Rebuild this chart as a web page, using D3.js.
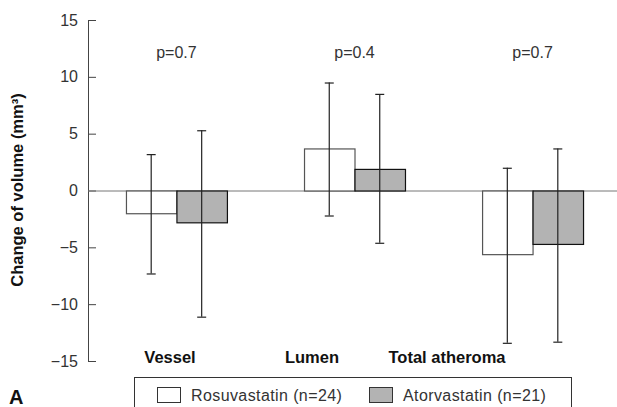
<!DOCTYPE html>
<html>
<head>
<meta charset="utf-8">
<script src="https://cdn.jsdelivr.net/npm/d3@7"></script>
<style>
  body { margin: 0; background: #fff; }
  svg { display: block; }
</style>
</head>
<body>
<div id="chart"></div>
<script>
// data
var categories = ["Vessel", "Lumen", "Total atheroma"];
var series = ["Rosuvastatin (n=24)", "Atorvastatin (n=21)"];
var means = {
    "Rosuvastatin (n=24)": [-2.0, 3.7, -5.6],
    "Atorvastatin (n=21)": [-2.8, 1.9, -4.7]
};
var errLow = {
    "Rosuvastatin (n=24)": [-7.3, -2.2, -13.4],
    "Atorvastatin (n=21)": [-11.1, -4.6, -13.3]
};
var errHigh = {
    "Rosuvastatin (n=24)": [3.2, 9.5, 2.0],
    "Atorvastatin (n=21)": [5.3, 8.5, 3.7]
};
var pValues = ["p=0.7", "p=0.4", "p=0.7"];
var yTicks = [-15, -10, -5, 0, 5, 10, 15];

drawChart();

function drawChart(){

    var width = 617, height = 407;
    var fills = {"Rosuvastatin (n=24)": "#ffffff", "Atorvastatin (n=21)": "#b3b3b3"};
    var strokes = {"Rosuvastatin (n=24)": "#555", "Atorvastatin (n=21)": "#111"};

    var svg = d3.select("#chart")
        .append("svg")
        .attr("width", width)
        .attr("height", height);

    var y = d3.scaleLinear()
        .domain([-15, 15])
        .range([361, 20]);

    var x = d3.scaleBand()
        .domain(categories)
        .range([87.5, 621.5])
        .paddingInner(0.433)
        .paddingOuter(0.216);

    var xs = d3.scaleBand()
        .domain(series)
        .range([0, x.bandwidth()]);

    // y axis with inward ticks
    var yAxis = d3.axisLeft(y)
        .tickValues(yTicks)
        .tickSize(-8)
        .tickSizeOuter(0)
        .tickPadding(10);

    var yg = svg.append("g")
        .attr("transform", "translate(88,0)")
        .call(yAxis);
    yg.select(".domain").attr("stroke", "#444");
    yg.selectAll(".tick line").attr("stroke", "#444");
    yg.selectAll(".tick text")
        .attr("fill", "#333")
        .style("font-family", "Liberation Sans, Arial, sans-serif")
        .style("font-size", "16px");

    // zero line
    svg.append("line")
        .attr("x1", 88).attr("x2", 617)
        .attr("y1", y(0) + 0.5).attr("y2", y(0) + 0.5)
        .attr("stroke", "#777");

    // bars
    var groups = svg.selectAll("g.cat").data(categories).enter().append("g")
        .attr("class", "cat")
        .attr("transform", function(d){ return "translate(" + x(d) + ",0)"; });

    groups.selectAll("rect").data(function(d, i){
            return series.map(function(s){ return {s: s, v: means[s][i], lo: errLow[s][i], hi: errHigh[s][i]}; });
        }).enter().append("rect")
        .attr("x", function(d){ return xs(d.s) + 0.5; })
        .attr("y", function(d){ return Math.min(y(d.v), y(0)) + 0.5; })
        .attr("width", xs.bandwidth())
        .attr("height", function(d){ return Math.abs(y(d.v) - y(0)); })
        .attr("fill", function(d){ return fills[d.s]; })
        .attr("stroke", function(d){ return strokes[d.s]; })
        .attr("stroke-width", 1.2);

    // error bars
    var eb = groups.selectAll("g.err").data(function(d, i){
            return series.map(function(s){ return {s: s, lo: errLow[s][i], hi: errHigh[s][i]}; });
        }).enter().append("g")
        .attr("class", "err")
        .attr("stroke", "#222")
        .attr("stroke-width", 1.2);

    eb.append("line")
        .attr("x1", function(d){ return xs(d.s) + xs.bandwidth() / 2; })
        .attr("x2", function(d){ return xs(d.s) + xs.bandwidth() / 2; })
        .attr("y1", function(d){ return y(d.hi); })
        .attr("y2", function(d){ return y(d.lo); });
    eb.append("line")
        .attr("x1", function(d){ return xs(d.s) + xs.bandwidth() / 2 - 4.5; })
        .attr("x2", function(d){ return xs(d.s) + xs.bandwidth() / 2 + 4.5; })
        .attr("y1", function(d){ return y(d.hi) + 0.5; })
        .attr("y2", function(d){ return y(d.hi) + 0.5; });
    eb.append("line")
        .attr("x1", function(d){ return xs(d.s) + xs.bandwidth() / 2 - 4.5; })
        .attr("x2", function(d){ return xs(d.s) + xs.bandwidth() / 2 + 4.5; })
        .attr("y1", function(d){ return y(d.lo) + 0.5; })
        .attr("y2", function(d){ return y(d.lo) + 0.5; });

    // p values above each group
    svg.selectAll("text.p").data(pValues).enter().append("text")
        .attr("class", "p")
        .attr("x", function(d, i){ return x(categories[i]) + x.bandwidth() / 2; })
        .attr("y", 58)
        .attr("text-anchor", "middle")
        .attr("fill", "#333")
        .style("font-family", "Liberation Sans, Arial, sans-serif")
        .style("font-size", "16px")
        .text(function(d){ return d; });

    // category labels (sit left of their groups in the original)
    var labelX = [170, 312, 447];
    svg.selectAll("text.cat").data(categories).enter().append("text")
        .attr("class", "cat")
        .attr("x", function(d, i){ return labelX[i]; })
        .attr("y", 363)
        .attr("text-anchor", "middle")
        .attr("fill", "#111")
        .style("font-family", "Liberation Sans, Arial, sans-serif")
        .style("font-weight", "bold")
        .style("font-size", "16.5px")
        .text(function(d){ return d; });

    // y axis title
    svg.append("text")
        .attr("transform", "translate(23,190) rotate(-90)")
        .attr("text-anchor", "middle")
        .attr("fill", "#111")
        .style("font-family", "Liberation Sans, Arial, sans-serif")
        .style("font-weight", "bold")
        .style("font-size", "16.5px")
        .text("Change of volume (mm³)");

    // panel letter
    svg.append("text")
        .attr("x", 9).attr("y", 404)
        .attr("fill", "#111")
        .style("font-family", "Liberation Sans, Arial, sans-serif")
        .style("font-weight", "bold")
        .style("font-size", "20px")
        .text("A");

    // legend
    var legend = svg.append("g");
    legend.append("rect")
        .attr("x", 134.5).attr("y", 377.5)
        .attr("width", 437).attr("height", 40)
        .attr("fill", "none")
        .attr("stroke", "#333");

    var legX = [157, 369];
    var items = legend.selectAll("g.item").data(series).enter().append("g")
        .attr("class", "item")
        .attr("transform", function(d, i){ return "translate(" + legX[i] + ",387)"; });
    items.append("rect")
        .attr("x", 0.5).attr("y", 0.5)
        .attr("width", 23).attr("height", 15)
        .attr("fill", function(d){ return fills[d]; })
        .attr("stroke", "#333");
    items.append("text")
        .attr("x", 34).attr("y", 13.5)
        .attr("fill", "#333")
        .style("font-family", "Liberation Sans, Arial, sans-serif")
        .style("font-size", "16px")
        .style("letter-spacing", "0.4px")
        .text(function(d){ return d; });
}
</script>
</body>
</html>
